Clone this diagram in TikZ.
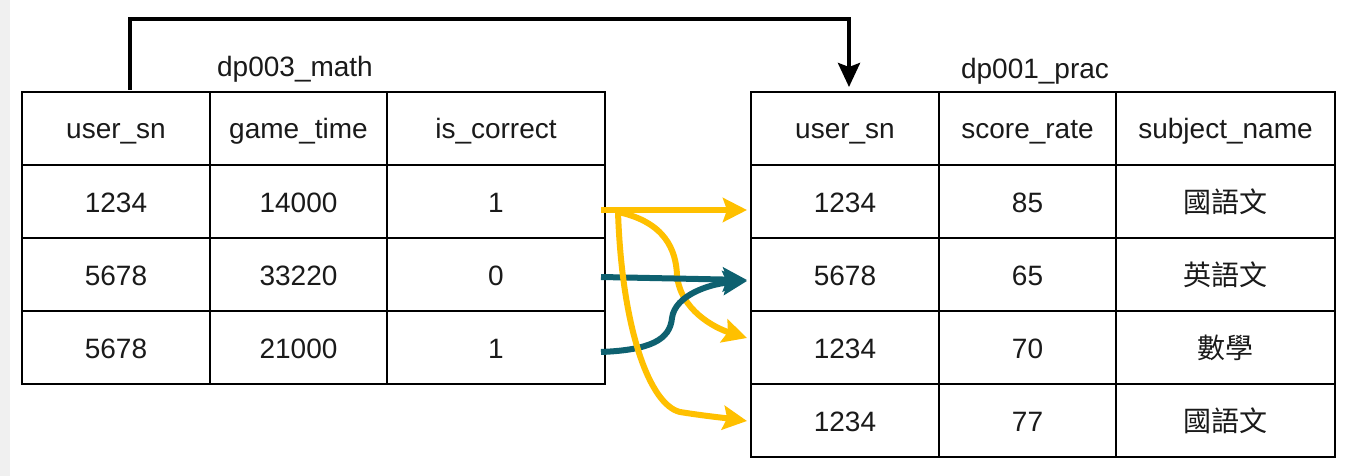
\documentclass[tikz,border=0pt]{standalone}
\usepackage{fontspec}
\setmainfont{Liberation Sans}
\newfontfamily\cjk{Noto Sans CJK TC}
\usetikzlibrary{arrows.meta}
\definecolor{yel}{HTML}{FFC000}
\definecolor{teal2}{HTML}{0E6170}
\definecolor{strip}{HTML}{F0F0F0}
\definecolor{txt}{HTML}{1A1A1A}
\tikzset{
  cell/.style={draw=black, line width=2pt, minimum height=73pt, inner sep=0pt,
    text height=21pt, text depth=0pt,
    font=\fontsize{28}{34}\selectfont, text=txt, anchor=center},
  cA/.style={cell, minimum width=188pt},
  cB/.style={cell, minimum width=177pt},
  cC/.style={cell, minimum width=218pt},
  cD/.style={cell, minimum width=219pt},
  title/.style={font=\fontsize{28}{34}\selectfont, text=txt, inner sep=0pt,
    text height=21pt, text depth=0pt},
  yarrow/.style={draw=yel, line width=6pt, -{Stealth[length=24pt,width=24pt,inset=4pt]}},
  tarrow/.style={draw=teal2, line width=6pt, -{Stealth[length=24pt,width=24pt,inset=4pt]}},
  toparrow/.style={draw=black, line width=4pt, -{Stealth[length=24pt,width=22pt,inset=4pt]}}
}
\begin{document}
\begin{tikzpicture}[x=1pt,y=-1pt]
\useasboundingbox (0,0) rectangle (1345,476);
\fill[white] (0,0) rectangle (1345,476);
\fill[strip] (0,0) rectangle (10,476);
% left table
\node[cA] (l01) at (116,128.5) {user\_sn};
\node[cB] (l02) at (298.5,128.5) {game\_time};
\node[cC] (l03) at (496,128.5) {is\_correct};
\node[cA] (l11) at (116,201.5) {1234};
\node[cB] (l12) at (298.5,201.5) {14000};
\node[cC] (l13) at (496,201.5) {1};
\node[cA] (l21) at (116,274.5) {5678};
\node[cB] (l22) at (298.5,274.5) {33220};
\node[cC] (l23) at (496,274.5) {0};
\node[cA] (l31) at (116,347.5) {5678};
\node[cB] (l32) at (298.5,347.5) {21000};
\node[cC] (l33) at (496,347.5) {1};
% right table
\node[cA] (r01) at (845,128.5) {user\_sn};
\node[cB] (r02) at (1027.5,128.5) {score\_rate};
\node[cD] (r03) at (1225.5,128.5) {subject\_name};
\node[cA] (r11) at (845,201.5) {1234};
\node[cB] (r12) at (1027.5,201.5) {85};
\node[cD] (r13) at (1225.5,201.5) {\cjk 國語文};
\node[cA] (r21) at (845,274.5) {5678};
\node[cB] (r22) at (1027.5,274.5) {65};
\node[cD] (r23) at (1225.5,274.5) {\cjk 英語文};
\node[cA] (r31) at (845,347.5) {1234};
\node[cB] (r32) at (1027.5,347.5) {70};
\node[cD] (r33) at (1225.5,347.5) {\cjk 數學};
\node[cA] (r41) at (845,420.5) {1234};
\node[cB] (r42) at (1027.5,420.5) {77};
\node[cD] (r43) at (1225.5,420.5) {\cjk 國語文};
% titles
\node[title] (lt) at (295,66) {dp003\_math};
\node[title] (rt) at (1035,68) {dp001\_prac};
% top connector
\draw[toparrow] ([shift={(14,-1)}]l01.north) -- ++(0,-71) -| ([shift={(4,-4)}]r01.north);
% coloured connectors
\draw[yarrow] ([shift={(-5,8.5)}]l13.east) -- ([shift={(-3,8.5)}]r11.west);
\draw[yarrow] ([shift={(12,10.5)}]l13.east) .. controls (665,222) and (676,250) .. (677,275)
   .. controls (680,310) and (715,328) .. ([shift={(-3,-9.5)}]r31.west);
\draw[tarrow] ([shift={(-5,2.5)}]l23.east) -- ([shift={(-3,5.5)}]r21.west);
\draw[tarrow] ([shift={(-5,4.5)}]l33.east) .. controls (650,350) and (670,340) .. (672,318)
   .. controls (675,295) and (710,284) .. ([shift={(-3,6.5)}]r21.west);
\draw[yarrow] ([shift={(12,10.5)}]l13.east) .. controls (622,330) and (650,405) .. (680,412)
   .. controls (705,416) and (725,418) .. ([shift={(-3,0.5)}]r41.west);
\end{tikzpicture}
\end{document}
